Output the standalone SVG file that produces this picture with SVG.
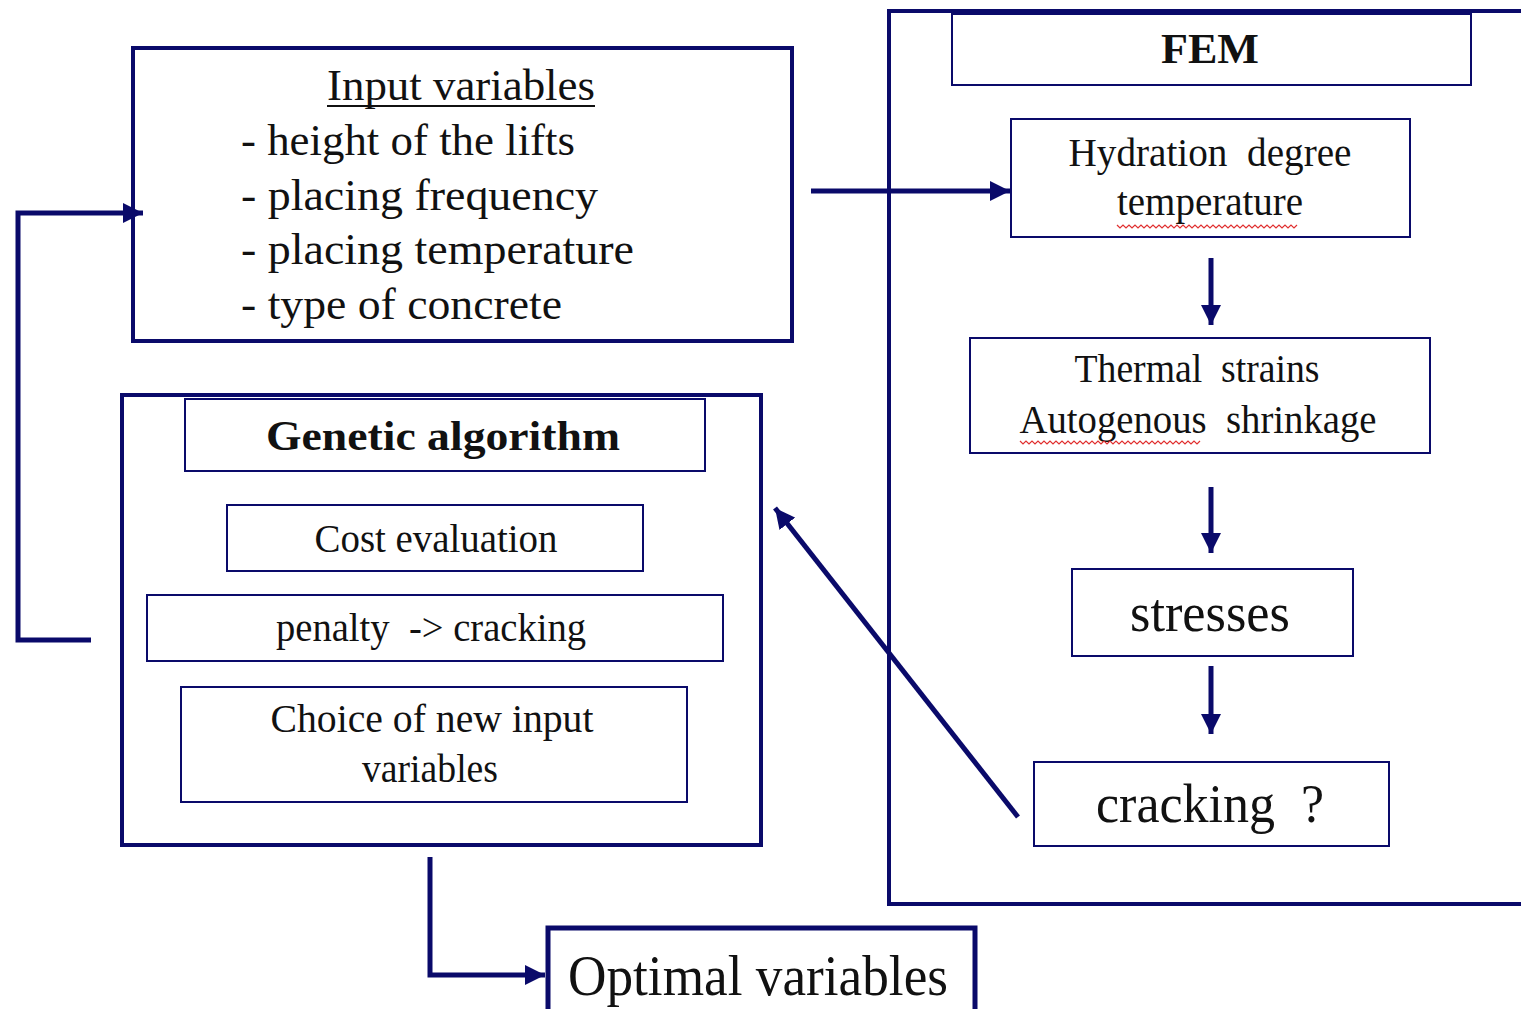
<svg xmlns="http://www.w3.org/2000/svg" width="1521" height="1009" viewBox="0 0 1521 1009">
<style>
.b{fill:#fff;stroke:#0a0a6a}
.t{font-family:"Liberation Serif","Times New Roman",serif;fill:#111;text-anchor:middle}
.l{font-family:"Liberation Serif","Times New Roman",serif;fill:#111}
.c{fill:none;stroke:#0a0a6a;stroke-width:5}
.w{fill:none;stroke:#e03030;stroke-width:1.2}
</style>
<defs>
<marker id="ah" viewBox="0 0 10 10" refX="10" refY="5" markerWidth="4" markerHeight="4" markerUnits="strokeWidth" orient="auto">
<path d="M0,0 L10,5 L0,10 z" fill="#0a0a6a"/>
</marker>
</defs>
<rect width="1521" height="1009" fill="#fff"/>

<g id="fem">
<rect class="b" x="889" y="11" width="650" height="893" stroke-width="4"/>
</g>
<g id="fem-title">
<rect class="b" x="952" y="14" width="519" height="71" stroke-width="2"/>
<text class="t" x="1210" y="63" font-size="43" font-weight="bold" textLength="98" lengthAdjust="spacingAndGlyphs">FEM</text>
</g>
<g id="hydration">
<rect class="b" x="1011" y="119" width="399" height="118" stroke-width="2"/>
<text class="t" x="1210" y="166" font-size="39" textLength="283" lengthAdjust="spacingAndGlyphs">Hydration&#160; degree</text>
<text class="t" x="1210" y="215" font-size="39" textLength="186" lengthAdjust="spacingAndGlyphs">temperature</text>
<path class="w" d="M1117,225 l3,3 l3,-3 l3,3 l3,-3 l3,3 l3,-3 l3,3 l3,-3 l3,3 l3,-3 l3,3 l3,-3 l3,3 l3,-3 l3,3 l3,-3 l3,3 l3,-3 l3,3 l3,-3 l3,3 l3,-3 l3,3 l3,-3 l3,3 l3,-3 l3,3 l3,-3 l3,3 l3,-3 l3,3 l3,-3 l3,3 l3,-3 l3,3 l3,-3 l3,3 l3,-3 l3,3 l3,-3 l3,3 l3,-3 l3,3 l3,-3 l3,3 l3,-3 l3,3 l3,-3 l3,3 l3,-3 l3,3 l3,-3 l3,3 l3,-3 l3,3 l3,-3 l3,3 l3,-3 l3,3 l3,-3"/>
</g>
<g id="thermal">
<rect class="b" x="970" y="338" width="460" height="115" stroke-width="2"/>
<text class="t" x="1197" y="382" font-size="39" textLength="245" lengthAdjust="spacingAndGlyphs">Thermal&#160; strains</text>
<text class="t" x="1198" y="433" font-size="39" textLength="357" lengthAdjust="spacingAndGlyphs">Autogenous&#160; shrinkage</text>
<path class="w" d="M1020,441 l3,3 l3,-3 l3,3 l3,-3 l3,3 l3,-3 l3,3 l3,-3 l3,3 l3,-3 l3,3 l3,-3 l3,3 l3,-3 l3,3 l3,-3 l3,3 l3,-3 l3,3 l3,-3 l3,3 l3,-3 l3,3 l3,-3 l3,3 l3,-3 l3,3 l3,-3 l3,3 l3,-3 l3,3 l3,-3 l3,3 l3,-3 l3,3 l3,-3 l3,3 l3,-3 l3,3 l3,-3 l3,3 l3,-3 l3,3 l3,-3 l3,3 l3,-3 l3,3 l3,-3 l3,3 l3,-3 l3,3 l3,-3 l3,3 l3,-3 l3,3 l3,-3 l3,3 l3,-3 l3,3 l3,-3"/>
</g>
<g id="stresses">
<rect class="b" x="1072" y="569" width="281" height="87" stroke-width="2"/>
<text class="t" x="1210" y="631" font-size="55" textLength="160" lengthAdjust="spacingAndGlyphs">stresses</text>
</g>
<g id="cracking">
<rect class="b" x="1034" y="762" width="355" height="84" stroke-width="2"/>
<text class="t" x="1210" y="822" font-size="55" textLength="228" lengthAdjust="spacingAndGlyphs">cracking&#160; ?</text>
</g>

<g id="input">
<rect class="b" x="133" y="48" width="659" height="293" stroke-width="4"/>
<text class="t" x="461" y="100" font-size="44" textLength="268" lengthAdjust="spacingAndGlyphs">Input variables</text>
<line x1="327" y1="106" x2="595" y2="106" stroke="#111" stroke-width="2"/>
<text class="l" x="241" y="155" font-size="44" textLength="334" lengthAdjust="spacingAndGlyphs">- height of the lifts</text>
<text class="l" x="241" y="210" font-size="44" textLength="357" lengthAdjust="spacingAndGlyphs">- placing frequency</text>
<text class="l" x="241" y="264" font-size="44" textLength="393" lengthAdjust="spacingAndGlyphs">- placing temperature</text>
<text class="l" x="241" y="319" font-size="44" textLength="321" lengthAdjust="spacingAndGlyphs">- type of concrete</text>
</g>

<g id="ga">
<rect class="b" x="122" y="395" width="639" height="450" stroke-width="4"/>
</g>
<g id="ga-title">
<rect class="b" x="185" y="399" width="520" height="72" stroke-width="2"/>
<text class="t" x="443" y="450" font-size="43" font-weight="bold" textLength="354" lengthAdjust="spacingAndGlyphs">Genetic algorithm</text>
</g>
<g id="cost">
<rect class="b" x="227" y="505" width="416" height="66" stroke-width="2"/>
<text class="t" x="436" y="552" font-size="39" textLength="243" lengthAdjust="spacingAndGlyphs">Cost evaluation</text>
</g>
<g id="penalty">
<rect class="b" x="147" y="595" width="576" height="66" stroke-width="2"/>
<text class="t" x="431" y="641" font-size="39" textLength="310" lengthAdjust="spacingAndGlyphs">penalty&#160; -&gt; cracking</text>
</g>
<g id="choice">
<rect class="b" x="181" y="687" width="506" height="115" stroke-width="2"/>
<text class="t" x="432" y="732" font-size="39" textLength="323" lengthAdjust="spacingAndGlyphs">Choice of new input</text>
<text class="t" x="430" y="782" font-size="39" textLength="136" lengthAdjust="spacingAndGlyphs">variables</text>
</g>

<g id="optimal">
<rect class="b" x="548" y="928" width="427" height="90" stroke-width="5"/>
<text class="t" x="758" y="995" font-size="58" textLength="380" lengthAdjust="spacingAndGlyphs">Optimal variables</text>
</g>

<g id="connectors">
<path class="c" d="M811,191 H1010" marker-end="url(#ah)"/>
<path class="c" d="M1211,258 V325" marker-end="url(#ah)"/>
<path class="c" d="M1211,487 V553" marker-end="url(#ah)"/>
<path class="c" d="M1211,666 V734" marker-end="url(#ah)"/>
<path class="c" d="M91,640 H18 V213 H143" marker-end="url(#ah)"/>
<path class="c" d="M1018,817 L775,508" marker-end="url(#ah)"/>
<path class="c" d="M430,857 V975 H545" marker-end="url(#ah)"/>
</g>
</svg>
